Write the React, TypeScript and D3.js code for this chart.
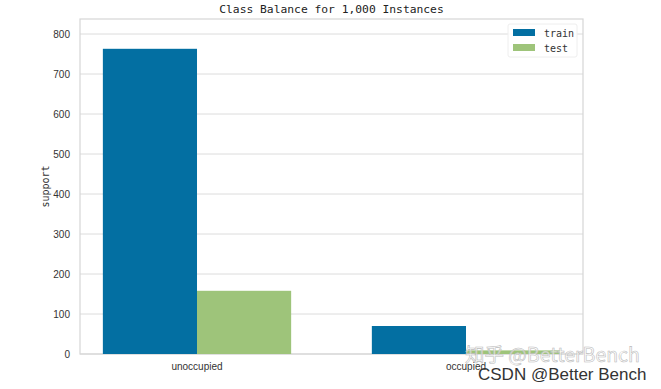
import { useEffect, useRef } from "react";
import * as d3 from "d3";

const classes = ["unoccupied", "occupied"];
const trainCounts = [763, 70];
const testCounts = [158, 9];
const yTicks = [0, 100, 200, 300, 400, 500, 600, 700, 800];

const W = 661;
const H = 389;
const margin = { left: 80, right: 78, top: 19, bottom: 35 };
const BAR_W = 0.35;
const TRAIN_COLOR = "#036fa2";
const TEST_COLOR = "#9ec47a";

const App = () => {
  const svgRef = useRef<SVGSVGElement>(null);

  useEffect(() => {
    const svg = d3.select(svgRef.current);
    svg.selectAll("*").remove();

    const x = d3
      .scaleLinear()
      .domain([-BAR_W - 0.085, classes.length - 1 + BAR_W + 0.085])
      .range([margin.left, W - margin.right]);
    const y = d3
      .scaleLinear()
      .domain([0, 837.5])
      .range([H - margin.bottom, margin.top]);

    // gridlines
    svg
      .append("g")
      .selectAll("line")
      .data(yTicks)
      .join("line")
      .attr("x1", margin.left)
      .attr("x2", W - margin.right)
      .attr("y1", (d) => y(d))
      .attr("y2", (d) => y(d))
      .attr("stroke", "#dcdcdc")
      .attr("stroke-width", 1);

    // frame
    svg
      .append("rect")
      .attr("x", margin.left)
      .attr("y", margin.top)
      .attr("width", W - margin.right - margin.left)
      .attr("height", H - margin.bottom - margin.top)
      .attr("fill", "none")
      .attr("stroke", "#d6d6d6")
      .attr("stroke-width", 1.2);

    const rows = classes.map((c, i) => ({ c, i, train: trainCounts[i], test: testCounts[i] }));

    svg
      .append("g")
      .selectAll("rect")
      .data(rows)
      .join("rect")
      .attr("x", (d) => x(d.i - BAR_W))
      .attr("width", (d) => x(d.i) - x(d.i - BAR_W))
      .attr("y", (d) => y(d.train))
      .attr("height", (d) => y(0) - y(d.train))
      .attr("fill", TRAIN_COLOR);

    svg
      .append("g")
      .selectAll("rect")
      .data(rows)
      .join("rect")
      .attr("x", (d) => x(d.i))
      .attr("width", (d) => x(d.i + BAR_W) - x(d.i))
      .attr("y", (d) => y(d.test))
      .attr("height", (d) => y(0) - y(d.test))
      .attr("fill", TEST_COLOR);

    // y tick labels
    svg
      .append("g")
      .selectAll("text")
      .data(yTicks)
      .join("text")
      .attr("x", 70)
      .attr("y", (d) => y(d))
      .attr("dy", "0.35em")
      .attr("text-anchor", "end")
      .attr("font-family", "Liberation Sans, sans-serif")
      .attr("font-size", 10)
      .attr("fill", "#333")
      .text((d) => d);

    // x tick labels
    svg
      .append("g")
      .selectAll("text")
      .data(rows)
      .join("text")
      .attr("x", (d) => x(d.i))
      .attr("y", 370)
      .attr("text-anchor", "middle")
      .attr("font-family", "Liberation Sans, sans-serif")
      .attr("font-size", 10)
      .attr("fill", "#333")
      .text((d) => d.c);

    svg
      .append("text")
      .attr("transform", `translate(49,${(margin.top + H - margin.bottom) / 2}) rotate(-90)`)
      .attr("text-anchor", "middle")
      .attr("font-family", "DejaVu Sans Mono, monospace")
      .attr("font-size", 10)
      .attr("fill", "#333")
      .text("support");

    svg
      .append("text")
      .attr("x", (margin.left + W - margin.right) / 2)
      .attr("y", 13)
      .attr("text-anchor", "middle")
      .attr("font-family", "DejaVu Sans Mono, monospace")
      .attr("font-size", 11.3)
      .attr("fill", "#222")
      .text("Class Balance for 1,000 Instances");

    // legend
    const lg = svg.append("g").attr("transform", "translate(508,24)");
    lg.append("rect")
      .attr("width", 69)
      .attr("height", 33)
      .attr("rx", 2)
      .attr("fill", "white")
      .attr("fill-opacity", 0.85)
      .attr("stroke", "#eee");
    [
      { name: "train", color: TRAIN_COLOR },
      { name: "test", color: TEST_COLOR },
    ].forEach((s, k) => {
      lg.append("rect")
        .attr("x", 5)
        .attr("y", 5 + k * 15)
        .attr("width", 22)
        .attr("height", 7)
        .attr("fill", s.color);
      lg.append("text")
        .attr("x", 36)
        .attr("y", 9 + k * 15)
        .attr("dy", "0.35em")
        .attr("font-family", "DejaVu Sans Mono, monospace")
        .attr("font-size", 10)
        .attr("fill", "#333")
        .text(s.name);
    });

    // watermarks
    svg
      .append("text")
      .attr("x", 465)
      .attr("y", 362)
      .attr("font-family", "Noto Sans CJK SC, sans-serif")
      .attr("font-size", 19.5)
      .attr("fill", "white")
      .attr("fill-opacity", 0.6)
      .attr("stroke", "#bbb")
      .attr("stroke-width", 0.6)
      .text("知乎 @BetterBench");
    svg
      .append("text")
      .attr("x", 478)
      .attr("y", 380)
      .attr("font-family", "Liberation Sans, sans-serif")
      .attr("font-size", 17)
      .attr("fill", "#333")
      .text("CSDN @Better Bench");

    return () => {
      svg.selectAll("*").remove();
    };
  }, []);

  return (
    <svg
      ref={svgRef}
      width={W}
      height={H}
      style={{ position: "absolute", left: 0, top: 0, background: "white" }}
    />
  );
};

export default App;
